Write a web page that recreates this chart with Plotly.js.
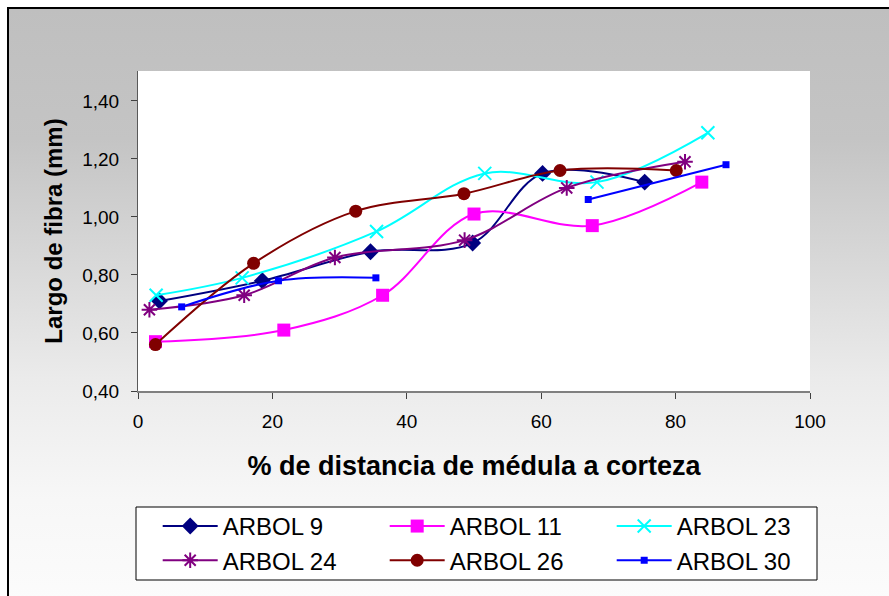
<!DOCTYPE html>
<html>
<head>
<meta charset="utf-8">
<script src="https://cdn.plot.ly/plotly-3.0.1.min.js"></script>
<style>
  html, body { margin: 0; padding: 0; background: #ffffff; }
  #frame {
    position: absolute; left: 7px; top: 7px; width: 900px; height: 600px;
    border-left: 2px solid #000; border-top: 2px solid #000;
    background: linear-gradient(to bottom, #bfbfbf 0px, #c4c4c4 130px, #ebebeb 370px, #f7f7f7 490px, #fcfcfc 600px);
  }
  #chart { position: absolute; left: 0; top: 0; width: 889px; height: 596px; }
</style>
</head>
<body>
<div id="frame"></div>
<div id="chart"></div>
<script>
// Data
const seriesNames = ["ARBOL 9", "ARBOL 11", "ARBOL 23", "ARBOL 24", "ARBOL 26", "ARBOL 30"];

const x9  = [3.2, 18.5, 34.6, 49.8, 60.2, 75.4];
const y9  = [0.71, 0.78, 0.88, 0.91, 1.15, 1.12];

const x11 = [2.6, 21.7, 36.4, 50.0, 67.6, 83.9];
const y11 = [0.57, 0.61, 0.73, 1.01, 0.97, 1.12];

const x23 = [2.7, 15.5, 35.5, 51.6, 68.3, 84.8];
const y23 = [0.73, 0.79, 0.95, 1.15, 1.12, 1.29];

const x24 = [1.7, 15.8, 29.3, 48.6, 63.8, 81.4];
const y24 = [0.68, 0.73, 0.86, 0.92, 1.10, 1.19];

const x26 = [2.6, 17.2, 32.4, 48.5, 62.8, 80.1];
const y26 = [0.56, 0.84, 1.02, 1.08, 1.16, 1.16];

const x30 = [6.5, 20.9, 35.4, null, 67.0, 87.5];
const y30 = [0.69, 0.78, 0.79, null, 1.06, 1.18];

const yTickVals = [0.4, 0.6, 0.8, 1.0, 1.2, 1.4];
const xTickVals = [0, 20, 40, 60, 80, 100];

const xTitle = "% de distancia de médula a corteza";
const yTitle = "Largo de fibra (mm)";

function tr(name, xs, ys, color, symbol, size, open) {
  const marker = { symbol: symbol, size: size, color: color };
  if (open) marker.line = { color: color, width: 2 };
  return {
    type: "scatter", mode: "lines+markers", name: name,
    x: xs, y: ys, connectgaps: false,
    line: { color: color, width: 2, shape: "spline", smoothing: 1 },
    marker: marker
  };
}

const data = [
  tr(seriesNames[0], x9,  y9,  "#000080", "diamond", 13, false),
  tr(seriesNames[1], x11, y11, "#FF00FF", "square", 13, false),
  tr(seriesNames[2], x23, y23, "#00FFFF", "x-thin-open", 13, true),
  tr(seriesNames[3], x24, y24, "#800080", "asterisk-open", 13, true),
  tr(seriesNames[4], x26, y26, "#800000", "circle", 13, false),
  tr(seriesNames[5], x30, y30, "#0000FF", "square", 7, false)
];

const FONT = "Liberation Sans, Arial, sans-serif";

const layout = {
  width: 889, height: 596,
  paper_bgcolor: "rgba(0,0,0,0)",
  plot_bgcolor: "#ffffff",
  separators: ", ",
  margin: { l: 138, r: 79, t: 71, b: 205, autoexpand: false },
  font: { family: FONT, color: "#000000", size: 19 },
  showlegend: true,
  xaxis: {
    range: [0, 100], tickvals: xTickVals, ticks: "outside", ticklen: 6, tickwidth: 1,
    tickcolor: "#404040", showline: true, linecolor: "#808080", linewidth: 2,
    showgrid: false, zeroline: false, ticklabelstandoff: 6,
    tickfont: { family: FONT, size: 19, color: "#000" },
    title: { text: xTitle, font: { family: FONT, size: 27, weight: "bold", color: "#000" }, standoff: 25 },
    fixedrange: true
  },
  yaxis: {
    range: [0.4, 1.503], tickvals: yTickVals, tickformat: ".2f", ticks: "outside", ticklen: 6, tickwidth: 1,
    tickcolor: "#404040", showline: true, linecolor: "#595959", linewidth: 1,
    showgrid: false, zeroline: false, ticklabelstandoff: 8,
    tickfont: { family: FONT, size: 19, color: "#000" },
    title: { text: yTitle, font: { family: FONT, size: 24, weight: "bold", color: "#000" }, standoff: 12 },
    fixedrange: true
  },
  legend: {
    orientation: "h", xref: "paper", yref: "paper",
    x: 1.0427, xanchor: "right", y: -0.353, yanchor: "top",
    bgcolor: "rgba(0,0,0,0)", borderwidth: 0,
    font: { family: FONT, size: 24, color: "#000" },
    entrywidth: 157, entrywidthmode: "pixels", itemwidth: 55,
    traceorder: "normal"
  },
  shapes: [{
    type: "rect", xref: "paper", yref: "paper", layer: "below",
    x0: -2/672, x1: 679/672, y0: -116/320, y1: -189/320,
    line: { color: "#000000", width: 1 }, fillcolor: "#ffffff"
  }]
};

Plotly.newPlot("chart", data, layout, { staticPlot: true, displayModeBar: false });
</script>
</body>
</html>
